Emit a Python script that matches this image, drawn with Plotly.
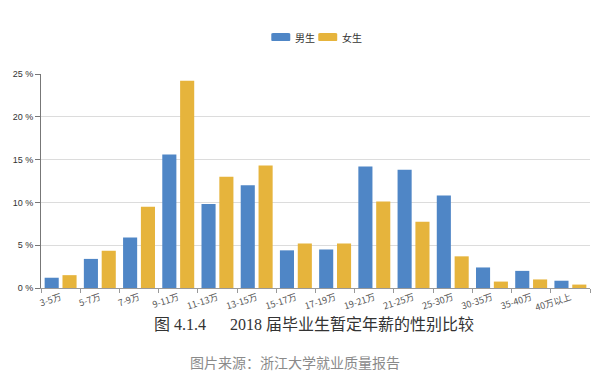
import plotly.graph_objects as go

categories = ["3-5万", "5-7万", "7-9万", "9-11万", "11-13万", "13-15万", "15-17万",
              "17-19万", "19-21万", "21-25万", "25-30万", "30-35万", "35-40万", "40万以上"]
male = [1.2, 3.4, 5.9, 15.6, 9.8, 12.0, 4.4, 4.5, 14.2, 13.8, 10.8, 2.4, 2.0, 0.85]
female = [1.5, 4.35, 9.5, 24.2, 13.0, 14.3, 5.2, 5.2, 10.1, 7.75, 3.7, 0.75, 1.0, 0.4]
y_ticks = [0, 5, 10, 15, 20, 25]
y_tick_labels = ["0 %", "5 %", "10 %", "15 %", "20 %", "25 %"]
series_names = ["男生", "女生"]

BLUE = "#4F86C6"
GOLD = "#E6B43C"

fig = go.Figure()
fig.add_trace(go.Bar(x=categories, y=male, name=series_names[0], marker=dict(color=BLUE, line=dict(width=0)),
                     showlegend=False))
fig.add_trace(go.Bar(x=categories, y=female, name=series_names[1], marker=dict(color=GOLD, line=dict(width=0)),
                     showlegend=False))

W, H = 607, 374
ml, mr, mt, mb = 40.5, 17, 74, 85.7

fig.update_layout(
    width=W, height=H,
    margin=dict(l=ml, r=mr, t=mt, b=mb, pad=0),
    paper_bgcolor="white", plot_bgcolor="white",
    barmode="group", bargap=0.09, bargroupgap=0.21,
    font=dict(family="Noto Sans CJK SC, Noto Sans", color="#444"),
)
fig.update_yaxes(
    range=[0, 25], tickvals=y_ticks, ticktext=y_tick_labels,
    showgrid=True, gridcolor="#dcdcdc", gridwidth=1,
    showline=True, linecolor="#777", linewidth=1,
    ticks="outside", ticklen=5, tickcolor="#777",
    tickfont=dict(size=9, color="#333", family="Liberation Sans"),
    zeroline=False, fixedrange=True,
)
fig.update_xaxes(
    showline=True, linecolor="#999", linewidth=1,
    ticks="outside", ticklen=4, tickcolor="#999", tickson="boundaries",
    tickangle=-18, tickfont=dict(size=9, color="#555", family="Noto Sans CJK SC"),
    showgrid=False,
)

# custom legend (rounded swatches + real text)
def rrect(x0, y0, x1, y1, r):
    return (f"M{x0+r},{y0} L{x1-r},{y0} Q{x1},{y0} {x1},{y0+r} L{x1},{y1-r} Q{x1},{y1} {x1-r},{y1} "
            f"L{x0+r},{y1} Q{x0},{y1} {x0},{y1-r} L{x0},{y0+r} Q{x0},{y0} {x0+r},{y0} Z")

def px_x(px):
    return (px - ml) / (W - ml - mr)

def px_y(py):
    return (H - mb - py) / (H - mt - mb)

legend_items = [(series_names[0], BLUE, 271, 290, 293), (series_names[1], GOLD, 318, 337, 340)]
for name, col, x0, x1, tx in legend_items:
    fig.add_shape(type="path", xref="paper", yref="paper",
                  path=rrect(px_x(x0), px_y(41), px_x(x1), px_y(33), 0.004),
                  fillcolor=col, line=dict(width=0))
    fig.add_annotation(text=name, xref="paper", yref="paper", x=px_x(tx), y=px_y(37),
                       xanchor="left", yanchor="middle", showarrow=False,
                       font=dict(size=10, color="#333", family="Noto Sans CJK SC"))

fig.add_annotation(text="图 4.1.4      2018 届毕业生暂定年薪的性别比较",
                   xref="paper", yref="paper", x=px_x(314), y=px_y(325),
                   xanchor="center", yanchor="middle", showarrow=False,
                   font=dict(size=16, color="#333", family="Liberation Serif, Noto Sans CJK SC"))
fig.add_annotation(text="图片来源：浙江大学就业质量报告",
                   xref="paper", yref="paper", x=px_x(295), y=px_y(362),
                   xanchor="center", yanchor="middle", showarrow=False,
                   font=dict(size=14, color="#8a8a8a", family="Noto Sans CJK SC"))

fig.write_html("out.html", config={"displayModeBar": False},
               post_script="document.body.style.margin='0';document.body.style.overflow='hidden';")
